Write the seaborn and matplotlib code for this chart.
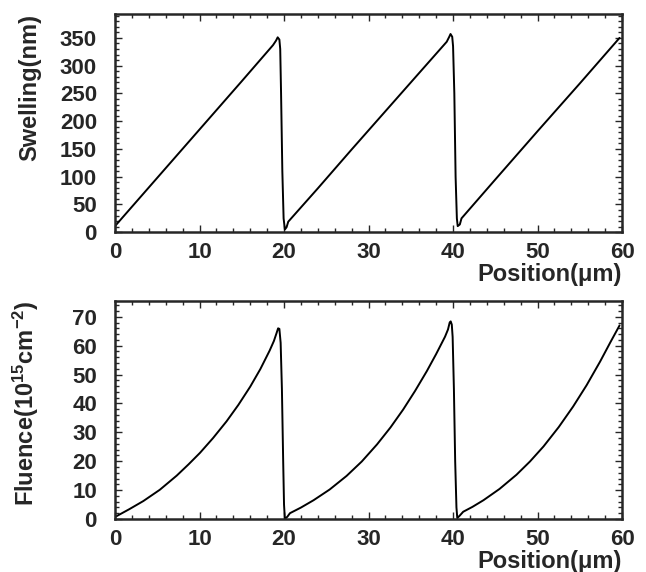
import matplotlib
matplotlib.use("Agg")
import matplotlib.pyplot as plt
from matplotlib.ticker import MultipleLocator
import seaborn as sns
import pandas as pd

# Swelling profile
swell_pos = [0, 5, 10, 15, 18.7, 19.05, 19.25, 19.45, 19.55, 19.65, 19.8, 19.95, 20.1, 20.3, 20.5,
             24, 28, 32, 36, 39.25, 39.55, 39.7, 39.9, 40.0, 40.15, 40.3, 40.45, 40.55, 40.8, 41.0,
             45, 50, 55, 59.7]
swell_val = [11, 98, 185, 272, 337, 345, 351, 347, 330, 250, 110, 25, 5, 9, 19,
             79, 149, 218, 287, 343, 352, 357, 352, 335, 250, 100, 25, 11, 14, 25,
             95, 182, 268, 350]

# Fluence profile
flu_pos = [0, 0.2, 1.7, 3.35, 5.3, 7.3, 8.7, 10.06, 11.6, 13.2, 14.6, 16.0, 17.2, 18.3, 18.8,
           19.1, 19.3, 19.45, 19.6, 19.75, 19.9, 20.0, 20.1,
           20.4, 20.7, 22.0, 23.5, 25.4, 27.4, 29.2, 31.0, 32.6, 34.1, 35.5, 36.9, 38.0, 39.05,
           39.4, 39.6, 39.72, 39.85, 39.95, 40.1, 40.25, 40.4, 40.5,
           40.8, 41.2, 42.3, 43.6, 45.5, 47.5, 49.1, 50.7, 52.5, 54.2, 55.8, 57.4, 58.6, 59.7]
flu_val = [0.8, 1.0, 3.4, 6.2, 10.1, 15.0, 18.9, 22.9, 28.0, 33.8, 39.5, 45.8, 51.9, 58.3, 61.6,
           64.2, 66.0, 65.8, 61, 45, 20, 5, 0,
           0.8, 2.0, 3.95, 6.5, 10.2, 14.9, 19.9, 25.8, 31.7, 37.9, 44.3, 51.2, 57.1, 63.1,
           65.6, 68.0, 68.4, 67.3, 63, 45, 20, 4, 0.3,
           1.2, 2.5, 4.2, 6.5, 10.4, 15.3, 19.9, 25.1, 31.8, 38.9, 46.3, 54.5, 61.1, 67.0]

sns.set_style("ticks")
plt.rcParams['font.family'] = ['Liberation Sans', 'DejaVu Sans']
plt.rcParams['font.weight'] = 'bold'
plt.rcParams['mathtext.fontset'] = 'custom'
plt.rcParams['mathtext.rm'] = 'Liberation Sans:bold'
plt.rcParams['mathtext.default'] = 'rm'

swell = pd.DataFrame({'pos': swell_pos, 'val': swell_val})
flu = pd.DataFrame({'pos': flu_pos, 'val': flu_val})

fig = plt.figure(figsize=(6.46, 5.72), dpi=100)
ax1 = fig.add_axes([0.178, 0.594, 0.785, 0.3815])
ax2 = fig.add_axes([0.178, 0.0927, 0.785, 0.3813])

sns.lineplot(data=swell, x='pos', y='val', ax=ax1, color='black', linewidth=1.4,
             sort=False, estimator=None)
sns.lineplot(data=flu, x='pos', y='val', ax=ax2, color='black', linewidth=1.4,
             sort=False, estimator=None)

ax1.set_ylim(0, 393)
ax2.set_ylim(0, 75.5)
ax1.yaxis.set_major_locator(MultipleLocator(50))
ax1.yaxis.set_minor_locator(MultipleLocator(10))
ax2.yaxis.set_major_locator(MultipleLocator(10))
ax2.yaxis.set_minor_locator(MultipleLocator(2))

labels = ["Swelling(nm)", "Fluence(10$^{15}$cm$^{-2}$)"]
for ax, lab in zip([ax1, ax2], labels):
    ax.set_xlim(0, 60)
    ax.xaxis.set_major_locator(MultipleLocator(10))
    ax.xaxis.set_minor_locator(MultipleLocator(2))
    ax.tick_params(which='both', direction='in', top=True, right=True, width=1)
    ax.tick_params(which='major', length=5)
    ax.tick_params(which='minor', length=3)
    ax.tick_params(axis='x', which='major', labelsize=16, pad=7)
    ax.tick_params(axis='y', which='major', labelsize=16, pad=13)
    for t in ax.get_xticklabels() + ax.get_yticklabels():
        t.set_fontweight('bold')
    for s in ax.spines.values():
        s.set_linewidth(1.8)
    ax.set_xlabel("Position(\u03bcm)", fontsize=17, fontweight='bold', loc='right')
    ax.xaxis.set_label_coords(1.0, -0.14)
    ax.set_ylabel(lab, fontsize=17, fontweight='bold', loc='top')
    ax.yaxis.set_label_coords(-0.145, 1.0)

fig.savefig("out.png", dpi=100)
